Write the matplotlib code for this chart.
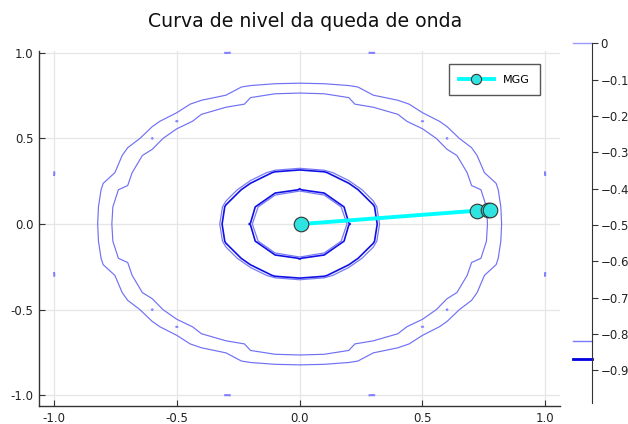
import numpy as np
import matplotlib.pyplot as plt

plt.rcParams["contour.negative_linestyle"] = "solid"

# grid of the drop-wave ("queda de onda") surface, step 0.1 on [-1, 1]
grid = np.round(np.arange(-1.0, 1.05, 0.1), 2)

# level values
outer_level = [-0.08]
inner_levels = [-0.17, -0.125]
inner_colors = ["#7a7af6", "#1010e6"]
peak_level = [-0.005]
rim_level = [-0.783]

# MGG path
mgg_x = [0.007, 0.722, 0.765, 0.776]
mgg_y = [0.0, 0.078, 0.082, 0.082]

# colorbar marks
cbar_marks = [0.0, -0.82, -0.87]
cbar_colors = ["#9a9aff", "#7a7af8", "#0000e0"]
cbar_widths = [1.0, 1.0, 2.0]
cbar_ticks = [0, -0.1, -0.2, -0.3, -0.4, -0.5, -0.6, -0.7, -0.8, -0.9]
cbar_labels = ["0", "\u22120.1", "\u22120.2", "\u22120.3", "\u22120.4",
               "\u22120.5", "\u22120.6", "\u22120.7", "\u22120.8", "\u22120.9"]

ticks = [-1.0, -0.5, 0.0, 0.5, 1.0]
tick_labels = ["-1.0", "-0.5", "0.0", "0.5", "1.0"]

X, Y = np.meshgrid(grid, grid)
R = np.hypot(X, Y)
Z = -(1 + np.cos(12 * R)) / (0.5 * R**2 + 2)

W, H = 628, 424
fig = plt.figure(figsize=(W / 100, H / 100), dpi=100)

def px_axes(l, t, r, b):
    return fig.add_axes([l / W, 1 - b / H, (r - l) / W, (b - t) / H])

ax = px_axes(39.3, 50.7, 560, 406)

ax.contour(X, Y, np.ma.masked_where((R < 0.45) | (R > 1.1), Z),
           levels=outer_level, colors="#7070f4", linewidths=0.85)
ax.contour(X, Y, np.ma.masked_where(R > 0.6, Z), levels=inner_levels,
           colors=inner_colors, linewidths=[0.9, 1.2])
ax.contour(X, Y, Z, levels=peak_level, colors="#8a8aff", linewidths=1.2)
ax.contour(X, Y, np.ma.masked_where(R < 0.9, Z), levels=rim_level,
           colors="#8080ff", linewidths=1.5)

ax.plot(mgg_x, mgg_y, color="#00ffff", lw=2.8, marker="o", ms=10.5,
        mfc="#2fe3e0", mec="#333333", mew=0.8, label="MGG", zorder=5)

ax.set_xlim(-1.06, 1.06)
ax.set_ylim(-1.0625, 1.012)
ax.set_xticks(ticks)
ax.set_xticklabels(tick_labels)
ax.set_yticks(ticks)
ax.set_yticklabels(tick_labels)
ax.grid(True, color="#e6e6e6", lw=0.9)
ax.set_axisbelow(True)
for s in ["top", "right"]:
    ax.spines[s].set_visible(False)
for s in ["left", "bottom"]:
    ax.spines[s].set_color("#333333")
    ax.spines[s].set_linewidth(1.0)
ax.tick_params(direction="in", length=4, width=0.8, color="#333333",
               labelsize=8.5, labelcolor="#222222", pad=4)

leg = ax.legend(loc="upper right", bbox_to_anchor=(540 / W, 1 - 64 / H),
                bbox_transform=fig.transFigure, borderaxespad=0,
                fancybox=False, framealpha=1, fontsize=8, markerscale=0.7,
                handlelength=3.1, borderpad=0.95)
leg.get_frame().set_edgecolor("#555555")
leg.get_frame().set_linewidth(1.0)

# colorbar drawn as a bare axis with the level marks
cax = px_axes(573, 43.3, 592, 403)
cax.set_xlim(0, 1)
cax.set_ylim(-0.99, 0)
for v, c, w in zip(cbar_marks, cbar_colors, cbar_widths):
    cax.plot([0, 1], [v, v], color=c, lw=w, clip_on=False)
for s in ["top", "left", "bottom"]:
    cax.spines[s].set_visible(False)
cax.spines["right"].set_color("#333333")
cax.set_xticks([])
cax.yaxis.tick_right()
cax.set_yticks(cbar_ticks)
cax.set_yticklabels(cbar_labels)
cax.tick_params(axis="y", direction="out", length=4, width=0.8,
                color="#333333", labelsize=8.5, labelcolor="#222222", pad=2)
cax.patch.set_visible(False)

fig.text(305 / W, 1 - 26.7 / H, "Curva de nivel da queda de onda",
         ha="center", va="baseline", fontsize=13.6, color="#111111")

fig.savefig("out.png", dpi=100)
